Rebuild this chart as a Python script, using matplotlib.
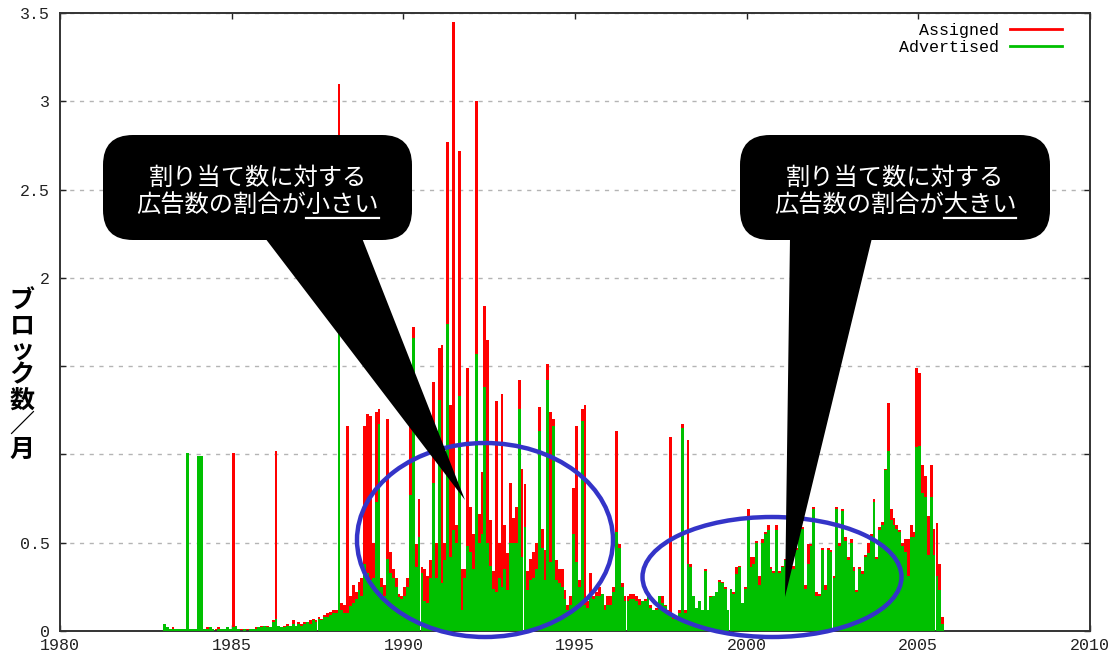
import numpy as np
import matplotlib
matplotlib.use("Agg")
import matplotlib.pyplot as plt
from matplotlib.patches import Ellipse, FancyBboxPatch, Polygon
from matplotlib.lines import Line2D

# monthly blocks, one row per year from 1983 to 2005 (Jan..Dec)
start_year = 1983
assigned = [
    0.03, 0.01, 0.01, 0.02, 0.01, 0.00, 0.01, 0.01, 0.00, 0.01, 0.00, 0.01,
    0.00, 0.00, 0.01, 0.02, 0.01, 0.00, 0.01, 0.02, 0.00, 0.01, 0.02, 0.01,
    1.01, 0.02, 0.01, 0.01, 0.00, 0.01, 0.01, 0.00, 0.02, 0.01, 0.03, 0.02,
    0.03, 0.02, 0.06, 1.02, 0.03, 0.02, 0.03, 0.04, 0.03, 0.06, 0.03, 0.05,
    0.04, 0.05, 0.05, 0.06, 0.07, 0.06, 0.08, 0.07, 0.09, 0.10, 0.11, 0.12,
    0.12, 3.10, 0.16, 0.15, 1.16, 0.20, 0.26, 0.22, 0.28, 0.30, 1.16, 1.23,
    1.22, 0.50, 1.24, 1.26, 0.30, 0.26, 1.20, 0.45, 0.35, 0.30, 0.21, 0.20,
    0.25, 0.30, 1.30, 1.72, 0.49, 0.75, 0.36, 0.35, 0.31, 0.40, 1.41, 0.50,
    1.60, 1.62, 0.50, 2.77, 1.28, 3.45, 0.60, 2.72, 0.35, 0.35, 1.49, 0.70,
    0.55, 3.00, 0.66, 0.90, 1.84, 1.65, 0.63, 0.34, 1.30, 0.50, 1.34, 0.60,
    0.44, 0.84, 0.64, 0.70, 1.42, 0.92, 0.83, 0.34, 0.41, 0.45, 0.50, 1.27,
    0.58, 0.46, 1.51, 1.24, 1.20, 0.40, 0.35, 0.35, 0.23, 0.15, 0.20, 0.81,
    1.16, 0.29, 1.26, 1.28, 0.17, 0.33, 0.20, 0.22, 0.25, 0.20, 0.15, 0.20,
    0.20, 0.25, 1.13, 0.49, 0.27, 0.20, 0.20, 0.21, 0.21, 0.20, 0.18, 0.10,
    0.18, 0.20, 0.15, 0.12, 0.13, 0.20, 0.20, 0.15, 0.12, 1.10, 0.08, 0.07,
    0.12, 1.17, 0.12, 1.08, 0.38, 0.20, 0.13, 0.17, 0.12, 0.35, 0.12, 0.20,
    0.20, 0.22, 0.29, 0.28, 0.25, 0.12, 0.24, 0.22, 0.36, 0.37, 0.16, 0.25,
    0.69, 0.42, 0.42, 0.51, 0.31, 0.52, 0.56, 0.60, 0.36, 0.34, 0.60, 0.34,
    0.37, 0.41, 0.46, 0.39, 0.37, 0.47, 0.66, 0.59, 0.26, 0.49, 0.49, 0.70,
    0.22, 0.21, 0.47, 0.26, 0.47, 0.46, 0.31, 0.70, 0.50, 0.69, 0.53, 0.42,
    0.52, 0.36, 0.23, 0.36, 0.34, 0.43, 0.50, 0.55, 0.75, 0.42, 0.59, 0.62,
    0.92, 1.29, 0.69, 0.64, 0.60, 0.57, 0.50, 0.52, 0.52, 0.60, 0.56, 1.49,
    1.46, 0.94, 0.88, 0.65, 0.94, 0.58, 0.61, 0.38, 0.08, 0.00, 0.00, 0.00,
]
advertised = [
    0.04, 0.02, 0.01, 0.01, 0.01, 0.01, 0.01, 0.01, 1.01, 0.01, 0.01, 0.01,
    0.99, 0.99, 0.01, 0.01, 0.02, 0.01, 0.00, 0.01, 0.01, 0.01, 0.02, 0.01,
    0.02, 0.03, 0.01, 0.00, 0.01, 0.00, 0.01, 0.01, 0.01, 0.02, 0.02, 0.03,
    0.02, 0.02, 0.05, 0.07, 0.03, 0.02, 0.02, 0.03, 0.03, 0.04, 0.03, 0.04,
    0.03, 0.04, 0.05, 0.04, 0.06, 0.05, 0.07, 0.06, 0.08, 0.08, 0.09, 0.10,
    0.10, 1.85, 0.12, 0.10, 0.10, 0.14, 0.16, 0.18, 0.23, 0.20, 0.38, 0.33,
    0.29, 0.30, 0.73, 1.17, 0.25, 0.20, 0.41, 0.33, 0.30, 0.25, 0.19, 0.18,
    0.20, 0.25, 0.77, 1.66, 0.36, 0.53, 0.33, 0.17, 0.16, 0.30, 0.84, 0.30,
    1.31, 0.27, 0.40, 1.74, 0.42, 0.57, 0.50, 1.33, 0.12, 0.30, 0.48, 0.45,
    0.35, 1.57, 0.50, 0.55, 1.38, 0.50, 0.37, 0.24, 0.22, 0.30, 0.25, 0.35,
    0.23, 0.50, 0.50, 0.50, 1.26, 0.42, 0.59, 0.23, 0.29, 0.30, 0.35, 1.13,
    0.47, 0.29, 1.42, 0.39, 1.16, 0.29, 0.27, 0.25, 0.18, 0.12, 0.15, 0.55,
    0.39, 0.25, 1.19, 0.15, 0.13, 0.20, 0.18, 0.20, 0.20, 0.21, 0.12, 0.15,
    0.15, 0.22, 0.56, 0.47, 0.25, 0.17, 0.17, 0.18, 0.18, 0.17, 0.15, 0.17,
    0.17, 0.19, 0.13, 0.12, 0.12, 0.20, 0.16, 0.14, 0.10, 0.10, 0.07, 0.07,
    0.10, 1.15, 0.10, 0.38, 0.36, 0.20, 0.13, 0.17, 0.12, 0.34, 0.12, 0.19,
    0.20, 0.22, 0.28, 0.27, 0.24, 0.12, 0.24, 0.21, 0.32, 0.36, 0.16, 0.24,
    0.65, 0.36, 0.38, 0.50, 0.26, 0.50, 0.55, 0.57, 0.35, 0.33, 0.57, 0.33,
    0.36, 0.40, 0.45, 0.38, 0.35, 0.46, 0.62, 0.58, 0.24, 0.38, 0.48, 0.69,
    0.20, 0.20, 0.46, 0.23, 0.46, 0.45, 0.30, 0.69, 0.48, 0.68, 0.51, 0.40,
    0.50, 0.34, 0.22, 0.35, 0.32, 0.42, 0.44, 0.54, 0.73, 0.41, 0.57, 0.60,
    0.91, 1.02, 0.63, 0.60, 0.58, 0.56, 0.48, 0.45, 0.31, 0.53, 0.53, 1.04,
    1.05, 0.78, 0.76, 0.43, 0.76, 0.43, 0.31, 0.23, 0.04, 0.00, 0.00, 0.00,
]

x_ticks = [1980, 1985, 1990, 1995, 2000, 2005, 2010]
y_ticks = [0, 0.5, 1, 1.5, 2, 2.5, 3, 3.5]
y_tick_labels = ["0", "0.5", "", "", "2", "2.5", "3", "3.5"]
legend_labels = ["Assigned", "Advertised"]
y_title = "ブロック数／月"
note_head = "割り当て数に対する"
note_left = ("広告数の割合が", "小さい")
note_right = ("広告数の割合が", "大きい")

RED = "#ff0000"
GREEN = "#00c000"
BLUE = "#3434c8"
MONO = ["Liberation Mono", "DejaVu Sans Mono"]
JP = ["Noto Sans CJK JP", "DejaVu Sans"]

plt.rcParams["font.family"] = MONO

W, H = 1120, 660
fig = plt.figure(figsize=(W / 100, H / 100), dpi=100)
ax = fig.add_axes([60 / W, 29 / H, 1030 / W, 618 / H])

t = start_year + np.arange(len(assigned)) / 12.0
ax.bar(t, assigned, width=1 / 12, align="edge", color=RED, linewidth=0, zorder=2)
ax.bar(t, advertised, width=1 / 12, align="edge", color=GREEN, linewidth=0, zorder=3)

ax.set_xlim(1980, 2010)
ax.set_ylim(0, 3.5)
ax.set_xticks(x_ticks)
ax.set_xticklabels([str(x) for x in x_ticks])
ax.set_yticks(y_ticks)
ax.set_yticklabels(y_tick_labels)
ax.tick_params(direction="in", length=4.5, width=1, top=True, right=True,
               labelsize=12, colors="#222222")
ax.tick_params(axis="x", pad=5)
ax.tick_params(axis="y", pad=7)
ax.yaxis.grid(True, color="#b4b4b4", linestyle=(0, (3, 4)), linewidth=1)
ax.set_axisbelow(True)
for s in ax.spines.values():
    s.set_color("#333333")
    s.set_linewidth(1.4)

handles = [Line2D([], [], color=RED, lw=2), Line2D([], [], color=GREEN, lw=2)]
ax.legend(handles, legend_labels, loc="upper right",
          bbox_to_anchor=((1062 - 60) / 1030, (631 - 23) / 618),
          frameon=False, markerfirst=False, handlelength=3.1,
          handletextpad=0.7, labelspacing=0.1, borderpad=0, borderaxespad=0,
          prop={"family": MONO, "size": 12})

# overlay in pixel units for the callouts and circled areas
ov = fig.add_axes([0, 0, 1, 1])
ov.set_xlim(0, W)
ov.set_ylim(H, 0)
ov.axis("off")
ov.patch.set_alpha(0)

for i, c in enumerate(y_title):
    ov.text(22, 302 + i * 24.6, c, ha="center", va="center", fontsize=18,
            family=JP, weight="bold", color="black")

ov.add_patch(Ellipse((485, 540), 256, 194, fill=False, ec=BLUE, lw=3.2,
                     clip_on=False))
ov.add_patch(Ellipse((772, 577), 259, 120, fill=False, ec=BLUE, lw=3.2,
                     clip_on=False))


def callout(x0, x1, tail, lines):
    y0, y1 = 135, 240
    ov.add_patch(Polygon(tail, closed=True, fc="black", ec="black", lw=0))
    ov.add_patch(FancyBboxPatch((x0, y0), x1 - x0, y1 - y0,
                                boxstyle="round,pad=0,rounding_size=30",
                                fc="black", ec="black", lw=0))
    xc = (x0 + x1) / 2
    ov.text(xc, 178, note_head, ha="center", va="center", fontsize=17.5,
            family=JP, color="white")
    line2 = lines[0] + lines[1]
    txt = ov.text(xc, 205, line2, ha="center", va="center", fontsize=17.5,
                  family=JP, color="white")
    # underline the last word; CJK glyphs are full width
    fig.canvas.draw()
    bb = txt.get_window_extent()
    frac = len(lines[0]) / len(line2)
    ov.plot([bb.x0 + bb.width * frac, bb.x1], [218, 218], color="white", lw=1.6)


callout(103, 412, [(265, 238), (362, 238), (465, 500)], note_left)
callout(740, 1050, [(790, 238), (872, 238), (785, 597)], note_right)

fig.savefig("out.png", dpi=100)
